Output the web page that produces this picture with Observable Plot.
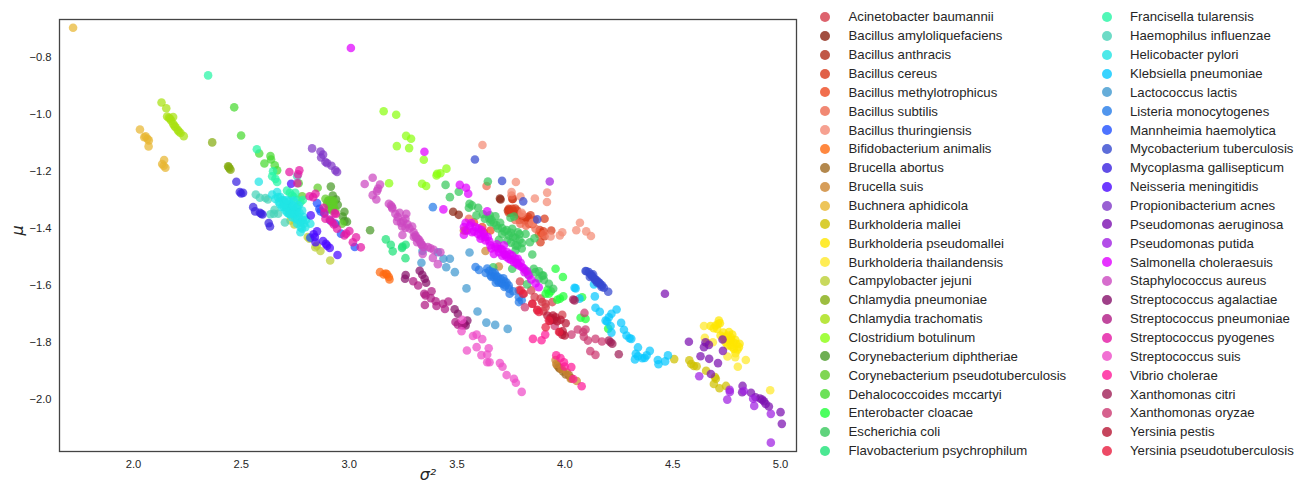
<!DOCTYPE html>
<html><head><meta charset="utf-8">
<script src="https://cdn.jsdelivr.net/npm/d3@7"></script>
<script src="https://cdn.jsdelivr.net/npm/@observablehq/plot@0.6"></script>
<style>
html,body{margin:0;padding:0;background:#fff;overflow:hidden}
#page{position:relative;width:1309px;height:487px;font-family:"Liberation Sans",Arial,sans-serif}
#chart{position:absolute;left:0;top:0}
#legend{position:absolute;left:820px;top:7.5px;display:grid;grid-template-columns:281.5px auto;grid-template-rows:repeat(24,18.87px);grid-auto-flow:column}
.item{display:flex;align-items:center;font-size:13.2px;color:#262626;white-space:nowrap}
.sw{width:10px;height:10px;border-radius:50%;margin-right:18.5px;flex:none;opacity:.8}
</style></head><body>
<div id="page"><div id="chart"></div><div id="legend"></div></div>
<script>
const xTicks=[2,2.5,3,3.5,4,4.5,5];
const yTicks=[-0.8,-1,-1.2,-1.4,-1.6,-1.8,-2];
const names=["Acinetobacter baumannii","Bacillus amyloliquefaciens","Bacillus anthracis","Bacillus cereus","Bacillus methylotrophicus","Bacillus subtilis","Bacillus thuringiensis","Bifidobacterium animalis","Brucella abortus","Brucella suis","Buchnera aphidicola","Burkholderia mallei","Burkholderia pseudomallei","Burkholderia thailandensis","Campylobacter jejuni","Chlamydia pneumoniae","Chlamydia trachomatis","Clostridium botulinum","Corynebacterium diphtheriae","Corynebacterium pseudotuberculosis","Dehalococcoides mccartyi","Enterobacter cloacae","Escherichia coli","Flavobacterium psychrophilum","Francisella tularensis","Haemophilus influenzae","Helicobacter pylori","Klebsiella pneumoniae","Lactococcus lactis","Listeria monocytogenes","Mannheimia haemolytica","Mycobacterium tuberculosis","Mycoplasma gallisepticum","Neisseria meningitidis","Propionibacterium acnes","Pseudomonas aeruginosa","Pseudomonas putida","Salmonella choleraesuis","Staphylococcus aureus","Streptococcus agalactiae","Streptococcus pneumoniae","Streptococcus pyogenes","Streptococcus suis","Vibrio cholerae","Xanthomonas citri","Xanthomonas oryzae","Yersinia pestis","Yersinia pseudotuberculosis"];
const colors=["#d43c4a","#8a2210","#b02e18","#d83a1a","#ee4a20","#ee6a50","#f48a75","#ff6a10","#a06a20","#cc8530","#e8b630","#cfc000","#ffe600","#ffe92a","#bccf35","#85ac10","#a8e010","#8cff10","#4a9a28","#60cc28","#48da30","#1fff38","#38c85c","#1ee278","#25f5a5","#48d2b8","#20e4e4","#08c8ff","#4098d0","#257ce8","#2050ff","#3548d0","#3a22e0","#4a08ff","#8038c8","#7c10b0","#a020e2","#e000ff","#cc48c0","#86106a","#b01a84","#e418a4","#ee4cc8","#ff1a98","#a02058","#cc3a72","#b81634","#e81e40"];

const acinetobacter=[[3.81,-1.629],[3.849,-1.664],[3.895,-1.658],[3.911,-1.664],[3.872,-1.687],[3.888,-1.646],[3.844,-1.617],[3.792,-1.586],[3.787,-1.617],[3.942,-1.658],[3.988,-1.703],[3.911,-1.676],[3.86,-1.64],[3.9,-1.69]];
const amyloliquefaciens=[[3.702,-1.298],[3.699,-1.295],[3.482,-1.341],[3.508,-1.352]];
const anthracis=[[3.759,-1.296],[3.736,-1.337],[3.771,-1.348],[3.741,-1.334],[3.818,-1.372],[3.75,-1.345]];
const cereus=[[3.74,-1.331],[3.756,-1.331],[3.779,-1.337],[3.787,-1.354],[3.825,-1.366],[3.841,-1.354],[3.833,-1.383],[3.906,-1.366],[3.884,-1.405],[3.906,-1.427],[3.937,-1.407],[3.756,-1.296],[3.887,-1.448],[3.8,-1.36],[3.76,-1.34],[3.77,-1.33],[3.74,-1.345],[3.81,-1.37],[3.79,-1.37],[3.83,-1.36],[3.89,-1.415],[3.9,-1.41]];
const methylotrophicus=[[3.578,-1.378],[3.624,-1.413],[3.617,-1.395],[3.655,-1.407],[3.539,-1.407],[3.85,-1.385],[3.88,-1.42],[3.86,-1.37]];
const subtilis=[[3.637,-1.251],[3.802,-1.351],[3.753,-1.284],[3.555,-1.366],[3.794,-1.383],[3.864,-1.401],[3.903,-1.419],[3.82,-1.39],[3.77,-1.37]];
const thuringiensis=[[3.618,-1.107],[3.773,-1.237],[3.918,-1.274],[3.861,-1.295],[3.917,-1.307],[3.794,-1.288],[3.753,-1.272],[4.07,-1.38],[4.099,-1.41],[4.121,-1.426],[4.053,-1.406],[3.988,-1.413],[3.977,-1.424],[3.934,-1.428],[3.85,-1.38],[3.8,-1.345]];
const bifidobacterium=[[3.143,-1.553],[3.16,-1.561],[3.176,-1.561],[3.184,-1.57],[3.187,-1.579],[3.17,-1.558]];
const abortus=[[3.965,-1.88],[3.977,-1.892],[3.991,-1.901],[4.004,-1.912],[4.019,-1.915],[4.03,-1.925],[3.972,-1.887]];
const brucellaSuis=[[3.957,-1.861],[3.985,-1.892],[4.027,-1.927],[4.055,-1.935],[3.694,-1.533],[3.632,-1.479],[3.532,-1.407],[3.96,-1.875],[4.01,-1.905]];
const buchnera=[[1.72,-0.696],[2.03,-1.053],[2.056,-1.077],[2.071,-1.091],[2.07,-1.112],[2.065,-1.085],[2.05,-1.08],[2.142,-1.16],[2.133,-1.174],[2.148,-1.187],[2.14,-1.18]];
const mallei=[[4.507,-1.858],[4.577,-1.862],[4.586,-1.875],[4.598,-1.882],[4.611,-1.883],[4.655,-1.899],[4.696,-1.921],[4.691,-1.945],[4.717,-1.96],[4.747,-1.952],[4.7,-1.927]];
const pseudomallei=[[4.675,-1.742],[4.699,-1.74],[4.714,-1.723],[4.719,-1.732],[4.706,-1.752],[4.722,-1.775],[4.737,-1.787],[4.761,-1.763],[4.776,-1.772],[4.761,-1.793],[4.781,-1.799],[4.768,-1.81],[4.745,-1.799],[4.784,-1.822],[4.81,-1.804],[4.807,-1.816],[4.791,-1.837],[4.69,-1.75],[4.735,-1.765],[4.77,-1.782],[4.79,-1.79],[4.71,-1.735],[4.745,-1.78],[4.755,-1.775],[4.77,-1.79],[4.775,-1.815],[4.755,-1.81],[4.795,-1.805],[4.8,-1.825]];
const thailandensis=[[4.645,-1.742],[4.649,-1.783],[4.686,-1.799],[4.66,-1.802],[4.754,-1.849],[4.79,-1.851],[4.839,-1.861],[4.802,-1.885],[4.952,-1.967]];
const campylobacter=[[2.746,-1.386],[2.808,-1.43],[2.843,-1.466],[2.867,-1.479],[2.912,-1.512],[2.728,-1.372],[2.816,-1.436],[2.85,-1.46]];
const pneumoniaeC=[[2.365,-1.098],[2.439,-1.182],[2.445,-1.189],[2.441,-1.184],[2.45,-1.194]];
const trachomatis=[[2.13,-0.958],[2.152,-0.978],[2.156,-1.007],[2.184,-1.009],[2.164,-1.012],[2.175,-1.022],[2.184,-1.033],[2.195,-1.045],[2.205,-1.054],[2.218,-1.065],[2.233,-1.076],[2.17,-1.015],[2.19,-1.04],[2.21,-1.06]];
const botulinum=[[3.16,-0.989],[3.218,-1.001],[3.264,-1.075],[3.287,-1.085],[3.221,-1.111],[3.278,-1.118],[3.346,-1.159],[3.185,-1.241],[3.338,-1.243],[3.357,-1.251],[3.408,-1.208],[3.423,-1.206],[3.451,-1.19],[3.405,-1.214]];
const diphtheriae=[[2.915,-1.253],[2.924,-1.284],[2.939,-1.298],[2.947,-1.317],[2.978,-1.341],[2.97,-1.358],[2.99,-1.376],[3.097,-1.406],[2.978,-1.374]];
const pseudotub=[[2.854,-1.257],[2.89,-1.296],[2.905,-1.301],[2.921,-1.301],[2.898,-1.313],[2.913,-1.319],[2.929,-1.325],[2.905,-1.331],[2.921,-1.337],[2.936,-1.337],[2.967,-1.383],[2.782,-1.287],[2.91,-1.31],[2.9,-1.305],[2.915,-1.31],[2.925,-1.315],[2.93,-1.305],[2.92,-1.33]];
const dehalococcoides=[[2.467,-0.975],[2.499,-1.074],[2.583,-1.137],[2.635,-1.146],[2.607,-1.172],[2.638,-1.158],[2.655,-1.178],[2.666,-1.196],[2.766,-1.241]];
const enterobacter=[[3.957,-1.541],[3.991,-1.57],[3.911,-1.629],[3.926,-1.629],[3.965,-1.65],[3.977,-1.646],[3.993,-1.638],[4.073,-1.713],[4.096,-1.717],[4.201,-1.751],[4.08,-1.641],[3.92,-1.615],[3.935,-1.62]];
const ecoli=[[3.643,-1.235],[3.447,-1.247],[3.467,-1.29],[3.508,-1.271],[3.558,-1.313],[3.555,-1.327],[3.57,-1.319],[3.598,-1.327],[3.59,-1.354],[3.629,-1.366],[3.652,-1.354],[3.678,-1.357],[3.655,-1.378],[3.683,-1.389],[3.709,-1.398],[3.756,-1.401],[3.782,-1.413],[3.818,-1.419],[3.709,-1.419],[3.74,-1.424],[3.771,-1.433],[3.694,-1.44],[3.733,-1.442],[3.771,-1.459],[3.802,-1.451],[3.838,-1.448],[3.859,-1.434],[3.771,-1.477],[3.849,-1.491],[3.748,-1.362],[3.764,-1.358],[3.668,-1.536],[3.756,-1.541],[3.818,-1.547],[3.856,-1.541],[3.864,-1.553],[3.9,-1.565],[3.903,-1.58],[3.825,-1.596],[3.879,-1.576],[3.926,-1.594],[3.946,-1.611],[3.895,-1.565],[3.66,-1.37],[3.7,-1.38],[3.73,-1.405],[3.79,-1.44],[3.69,-1.4],[3.72,-1.41],[3.75,-1.415],[3.76,-1.43],[3.75,-1.45],[3.78,-1.46],[3.8,-1.47],[3.79,-1.42],[3.65,-1.365],[3.67,-1.38],[3.83,-1.56],[3.88,-1.55],[3.62,-1.35]];
const flavobacterium=[[3.17,-1.438],[3.193,-1.457],[3.202,-1.48],[3.247,-1.463],[3.262,-1.457],[3.245,-1.468],[3.261,-1.504]];
const francisella=[[2.346,-0.863],[2.572,-1.122],[2.647,-1.199],[2.643,-1.217],[2.658,-1.226],[2.666,-1.237],[2.712,-1.267],[2.743,-1.29],[2.774,-1.308],[2.759,-1.325],[2.735,-1.284],[2.76,-1.3],[2.725,-1.275],[2.75,-1.275],[2.785,-1.3]];
const haemophilus=[[2.567,-1.281],[2.586,-1.292],[2.612,-1.293],[2.623,-1.298],[2.635,-1.35],[2.651,-1.348],[2.671,-1.348],[2.654,-1.334],[2.702,-1.379],[2.759,-1.217],[2.72,-1.33]];
const helicobacter=[[2.581,-1.236],[2.643,-1.281],[2.666,-1.272],[2.658,-1.296],[2.681,-1.29],[2.674,-1.308],[2.697,-1.302],[2.689,-1.325],[2.712,-1.313],[2.705,-1.337],[2.728,-1.325],[2.72,-1.348],[2.743,-1.337],[2.735,-1.36],[2.759,-1.343],[2.751,-1.366],[2.766,-1.36],[2.774,-1.378],[2.759,-1.383],[2.79,-1.383],[2.782,-1.401],[2.797,-1.395],[2.82,-1.383],[2.774,-1.413],[2.743,-1.302],[2.766,-1.319],[2.782,-1.337],[2.79,-1.36],[2.697,-1.325],[2.713,-1.345],[2.68,-1.315],[2.72,-1.305],[2.75,-1.35],[2.73,-1.34],[2.67,-1.29],[2.69,-1.3],[2.71,-1.325],[2.73,-1.315],[2.74,-1.32],[2.755,-1.33],[2.745,-1.35],[2.77,-1.345],[2.76,-1.37],[2.785,-1.37],[2.725,-1.35],[2.7,-1.315],[2.775,-1.395],[2.8,-1.37],[2.71,-1.3]];
const klebsiella=[[4.045,-1.608],[4.05,-1.61],[4.135,-1.596],[4.139,-1.638],[4.068,-1.646],[4.142,-1.678],[4.162,-1.692],[4.24,-1.684],[4.216,-1.699],[4.204,-1.711],[4.189,-1.723],[4.196,-1.726],[4.212,-1.742],[4.216,-1.765],[4.261,-1.731],[4.274,-1.755],[4.286,-1.775],[4.3,-1.785],[4.308,-1.787],[4.339,-1.817],[4.394,-1.829],[4.329,-1.839],[4.339,-1.848],[4.325,-1.859],[4.359,-1.855],[4.379,-1.845],[4.37,-1.854],[4.431,-1.861],[4.434,-1.876],[4.465,-1.866],[4.478,-1.845]];
const lactococcus=[[3.437,-1.506],[3.467,-1.506],[3.45,-1.536],[3.49,-1.553],[3.335,-1.52],[3.34,-1.479],[3.411,-1.483],[3.558,-1.484],[3.544,-1.61],[3.595,-1.691],[3.636,-1.73],[3.677,-1.738],[3.735,-1.752]];
const listeria=[[3.586,-1.535],[3.602,-1.545],[3.633,-1.556],[3.664,-1.553],[3.671,-1.57],[3.687,-1.582],[3.702,-1.576],[3.71,-1.594],[3.725,-1.6],[3.741,-1.611],[3.744,-1.629],[3.787,-1.658],[3.8,-1.652],[3.787,-1.641],[3.656,-1.565],[3.675,-1.555],[3.695,-1.59],[3.65,-1.548],[3.388,-1.325],[3.72,-1.585],[3.76,-1.62],[3.64,-1.54],[3.66,-1.57],[3.68,-1.565],[3.69,-1.57],[3.705,-1.59],[3.68,-1.59],[3.715,-1.575],[3.73,-1.59],[3.74,-1.6],[3.72,-1.605]];
const mannheimia=[[2.851,-1.311],[2.862,-1.331],[2.868,-1.34],[2.885,-1.348],[2.962,-1.418],[3.026,-1.465],[2.913,-1.372],[2.936,-1.383],[2.82,-1.432]];
const tuberculosis=[[4.096,-1.549],[4.111,-1.553],[4.119,-1.561],[4.127,-1.568],[4.139,-1.576],[4.147,-1.582],[4.155,-1.588],[4.165,-1.596],[4.173,-1.6],[4.181,-1.608],[4.201,-1.622],[4.131,-1.561],[4.116,-1.57],[3.583,-1.158],[3.709,-1.233],[3.807,-1.305],[3.872,-1.368],[4.1,-1.55],[4.125,-1.565],[4.14,-1.58],[4.15,-1.59],[4.16,-1.59],[4.17,-1.605]];
const mycoplasma=[[2.477,-1.236],[2.493,-1.272],[2.508,-1.275],[2.499,-1.277],[2.555,-1.325],[2.564,-1.34],[2.586,-1.345],[2.598,-1.351],[2.592,-1.348],[2.627,-1.381],[2.633,-1.393]];
const neisseria=[[2.731,-1.243],[2.822,-1.354],[2.851,-1.41],[2.841,-1.43],[2.844,-1.448],[2.879,-1.444],[2.898,-1.46],[2.91,-1.468],[2.892,-1.454],[2.946,-1.493],[2.835,-1.42]];
const acnes=[[2.828,-1.119],[2.867,-1.13],[2.879,-1.141],[2.87,-1.151],[2.89,-1.167],[2.898,-1.171],[2.918,-1.18],[2.936,-1.196],[2.944,-1.202]];
const aeruginosa=[[4.464,-1.629],[4.575,-1.797],[4.652,-1.799],[4.668,-1.808],[4.645,-1.816],[4.731,-1.789],[4.733,-1.829],[4.629,-1.848],[4.669,-1.857],[4.71,-1.872],[4.677,-1.91],[4.824,-1.952],[4.822,-1.974],[4.863,-1.976],[4.884,-1.992],[4.915,-2],[4.923,-2.006],[4.931,-2.015],[4.946,-2.024],[5,-2.044],[5.006,-2.085],[4.905,-1.996]];
const putida=[[4.623,-1.918],[4.764,-1.966],[4.765,-1.973],[4.753,-2],[4.878,-2.022],[4.873,-1.997],[4.955,-2.05],[4.955,-2.151],[4.83,-1.97],[3.93,-1.235]];
const salmonella=[[3.008,-0.767],[3.349,-1.131],[3.513,-1.247],[3.542,-1.257],[3.552,-1.278],[3.437,-1.333],[3.64,-1.34],[3.532,-1.422],[3.532,-1.395],[3.547,-1.407],[3.566,-1.381],[3.57,-1.413],[3.586,-1.395],[3.597,-1.419],[3.609,-1.436],[3.624,-1.419],[3.632,-1.442],[3.643,-1.43],[3.655,-1.459],[3.678,-1.465],[3.694,-1.483],[3.717,-1.459],[3.709,-1.495],[3.733,-1.483],[3.74,-1.506],[3.756,-1.495],[3.764,-1.518],[3.782,-1.506],[3.787,-1.53],[3.802,-1.536],[3.813,-1.553],[3.833,-1.565],[3.844,-1.579],[3.864,-1.592],[3.879,-1.606],[3.671,-1.489],[3.702,-1.471],[3.615,-1.405],[3.725,-1.492],[3.775,-1.52],[3.56,-1.39],[3.58,-1.41],[3.6,-1.4],[3.61,-1.425],[3.63,-1.43],[3.65,-1.445],[3.66,-1.47],[3.685,-1.455],[3.69,-1.47],[3.71,-1.475],[3.72,-1.49],[3.73,-1.5],[3.745,-1.49],[3.75,-1.51],[3.77,-1.505],[3.78,-1.525],[3.795,-1.52],[3.81,-1.54],[3.825,-1.55],[3.54,-1.38]];
const aureus=[[3.072,-1.244],[3.109,-1.222],[3.143,-1.246],[3.134,-1.26],[3.129,-1.269],[3.109,-1.283],[3.126,-1.298],[3.184,-1.313],[3.194,-1.319],[3.199,-1.325],[3.234,-1.345],[3.265,-1.348],[3.214,-1.348],[3.222,-1.374],[3.25,-1.374],[3.261,-1.366],[3.245,-1.393],[3.261,-1.397],[3.292,-1.393],[3.247,-1.423],[3.299,-1.413],[3.307,-1.424],[3.318,-1.436],[3.33,-1.448],[3.315,-1.448],[3.338,-1.459],[3.377,-1.469],[3.392,-1.475],[3.341,-1.489],[3.388,-1.503],[3.411,-1.525],[3.423,-1.483],[3.225,-1.36],[3.24,-1.38],[3.27,-1.385],[3.28,-1.4],[3.3,-1.43],[3.325,-1.44],[3.31,-1.43],[3.335,-1.455],[3.2,-1.33],[3.365,-1.465],[3.345,-1.465]];
const agalactiae=[[3.262,-1.563],[3.259,-1.576],[3.327,-1.548],[3.339,-1.562],[3.35,-1.576],[3.357,-1.59],[3.489,-1.683],[3.504,-1.699],[3.548,-1.723],[3.54,-1.74],[3.533,-1.733]];
const pneumoniaeS=[[3.297,-1.585],[3.32,-1.6],[3.382,-1.62],[3.348,-1.629],[3.354,-1.635],[3.378,-1.644],[3.401,-1.655],[3.351,-1.668],[3.405,-1.672],[3.435,-1.664],[3.46,-1.656],[3.444,-1.682],[3.493,-1.728],[3.504,-1.737],[3.524,-1.74]];
const pyogenes=[[2.723,-1.202],[2.769,-1.196],[2.763,-1.21],[2.76,-1.241],[2.817,-1.287],[2.833,-1.29],[2.844,-1.278],[2.882,-1.327],[2.885,-1.345],[2.89,-1.366],[2.933,-1.346],[2.938,-1.349],[2.929,-1.386],[2.944,-1.401],[2.978,-1.424],[3.001,-1.409],[3.032,-1.431],[3.017,-1.448],[3.054,-1.466],[2.921,-1.377],[2.986,-1.418],[2.91,-1.369]];
const suisS=[[3.521,-1.76],[3.524,-1.72],[3.574,-1.777],[3.591,-1.772],[3.617,-1.788],[3.546,-1.828],[3.591,-1.816],[3.647,-1.82],[3.613,-1.844],[3.64,-1.842],[3.64,-1.869],[3.651,-1.869],[3.699,-1.872],[3.711,-1.885],[3.73,-1.914],[3.764,-1.927],[3.773,-1.941],[3.8,-1.973]];
const vibrio=[[3.852,-1.787],[3.892,-1.792],[3.909,-1.772],[3.96,-1.845],[3.98,-1.854],[3.996,-1.869],[3.999,-1.884],[4.03,-1.886],[4.039,-1.928],[4.078,-1.953]];
const citri=[[4.039,-1.649],[4.045,-1.652],[4.204,-1.793],[4.212,-1.799],[4.22,-1.804],[4.25,-1.841]];
const oryzae=[[4.091,-1.696],[4.06,-1.754],[4.096,-1.754],[4.085,-1.763],[4.088,-1.779],[4.107,-1.793],[4.142,-1.787],[4.172,-1.796],[4.118,-1.83],[4.142,-1.843],[4.031,-1.772],[3.815,-1.676],[3.953,-1.742]];
const pestis=[[3.919,-1.705],[3.934,-1.713],[3.957,-1.711],[3.98,-1.72],[4.004,-1.732],[3.977,-1.763],[3.988,-1.772],[3.999,-1.775],[3.931,-1.723],[3.945,-1.705],[3.94,-1.72],[3.95,-1.72],[3.965,-1.725],[3.99,-1.76]];
const pseudotuberculosis=[[3.806,-1.629],[3.849,-1.664],[3.88,-1.693],[3.911,-1.746],[3.926,-1.723],[3.973,-1.763],[3.795,-1.617],[3.873,-1.685]];

const series=[acinetobacter,amyloliquefaciens,anthracis,cereus,methylotrophicus,subtilis,thuringiensis,bifidobacterium,abortus,brucellaSuis,buchnera,mallei,pseudomallei,thailandensis,campylobacter,pneumoniaeC,trachomatis,botulinum,diphtheriae,pseudotub,dehalococcoides,enterobacter,ecoli,flavobacterium,francisella,haemophilus,helicobacter,klebsiella,lactococcus,listeria,mannheimia,tuberculosis,mycoplasma,neisseria,acnes,aeruginosa,putida,salmonella,aureus,agalactiae,pneumoniaeS,pyogenes,suisS,vibrio,citri,oryzae,pestis,pseudotuberculosis];
const table=series.flatMap((pts,i)=>pts.map(([x,y])=>({species:names[i],x,y})));

const plot=Plot.plot({
  width:800,height:487,marginLeft:59,marginRight:4,marginTop:19,marginBottom:36,
  style:{fontFamily:'"Liberation Sans",Arial,sans-serif',fontSize:"11.2px",color:"#262626",background:"#fff"},
  x:{domain:[1.657,5.074]},
  y:{domain:[-2.182,-0.667]},
  color:{domain:names,range:colors},
  marks:[
    Plot.dot(table,{x:"x",y:"y",fill:"species",r:4.3,fillOpacity:0.72}),
    Plot.frame({stroke:"#444",strokeWidth:1.3}),
    Plot.axisX({ticks:xTicks,tickFormat:".1f",tickSize:0,tickPadding:9,label:null}),
    Plot.axisY({ticks:yTicks,tickFormat:".1f",tickSize:0,tickPadding:8,label:null}),
    Plot.text(["σ²"],{frameAnchor:"bottom",dy:28,fontSize:16,fontStyle:"italic",fontFamily:"DejaVu Sans",fill:"#262626"}),
    Plot.text(["μ"],{frameAnchor:"left",dx:-42,rotate:-90,fontSize:16,fontStyle:"italic",fontFamily:"DejaVu Sans",fill:"#262626"})
  ]
});
document.getElementById("chart").append(plot);
const legend=document.getElementById("legend");
names.forEach((n,i)=>{
  const it=document.createElement("div");it.className="item";
  const s=document.createElement("span");s.className="sw";s.style.background=colors[i];
  it.append(s,document.createTextNode(n));legend.append(it);
});
</script></body></html>
